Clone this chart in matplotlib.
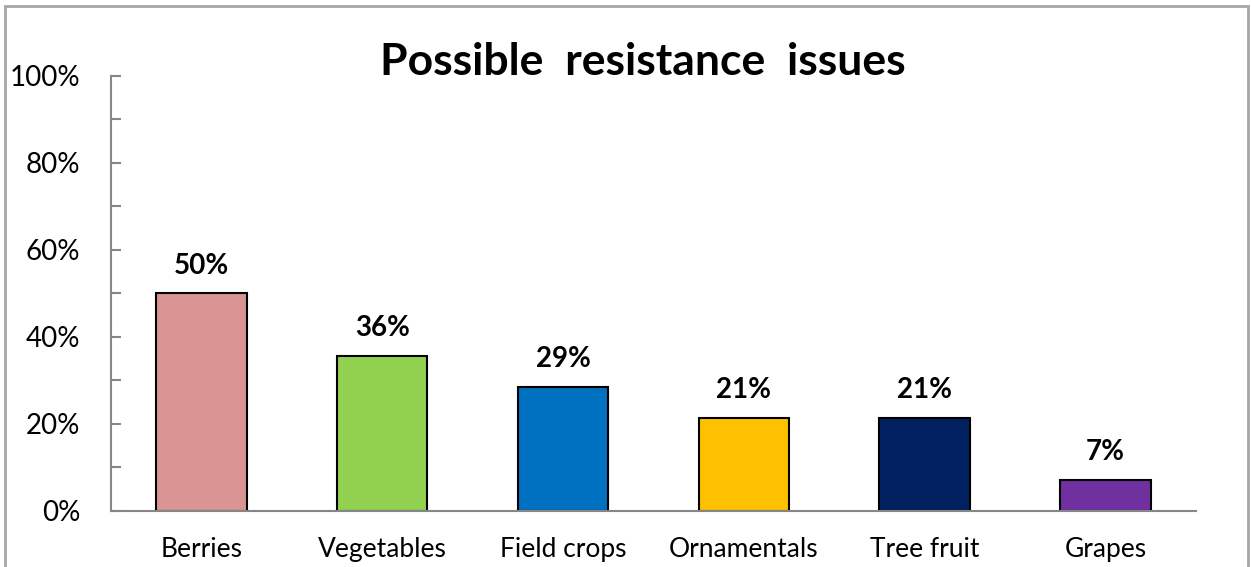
"""Possible resistance issues by crop group."""

import matplotlib.pyplot as plt
from matplotlib.patches import Rectangle
from matplotlib.ticker import MultipleLocator, PercentFormatter

plt.rcParams["font.family"] = ["Lato", "DejaVu Sans"]

categories = ["Berries", "Vegetables", "Field crops", "Ornamentals", "Tree fruit", "Grapes"]
shares = [50.0, 35.7, 28.6, 21.4, 21.4, 7.1]
value_labels = ["50%", "36%", "29%", "21%", "21%", "7%"]
colors = ["#D99594", "#92D050", "#0070C0", "#FFC000", "#002060", "#7030A0"]

fig = plt.figure(figsize=(12.51, 5.67), dpi=100)
ax = fig.add_axes([0.0887, 0.0988, 0.8673, 0.7672])

x = range(len(categories))
bars = ax.bar(x, shares, width=0.5, color=colors, edgecolor="black", linewidth=1.5)

for bar, lab in zip(bars, value_labels):
    ax.annotate(
        lab,
        (bar.get_x() + bar.get_width() / 2, bar.get_height()),
        xytext=(0, 20),
        textcoords="offset points",
        ha="center",
        va="center",
        fontsize=20,
        fontweight="bold",
    )

ax.set_xlim(-0.5, len(categories) - 0.5)
ax.set_ylim(0, 100)
ax.yaxis.set_major_locator(MultipleLocator(20))
ax.yaxis.set_minor_locator(MultipleLocator(10))
ax.yaxis.set_major_formatter(PercentFormatter(decimals=0))
ax.set_xticks(list(x))
ax.set_xticklabels(categories)

ax.tick_params(axis="y", which="both", direction="in", length=7, width=1.5,
               color="#868686", labelsize=20, pad=22)
ax.tick_params(axis="x", length=0, labelsize=19, pad=19)

for side in ("top", "right"):
    ax.spines[side].set_visible(False)
for side in ("left", "bottom"):
    ax.spines[side].set_color("#868686")
    ax.spines[side].set_linewidth(1.5)

fig.text(0.514, 0.89, "Possible  resistance  issues", ha="center", va="center",
         fontsize=32, fontweight="bold")

# outer chart frame
fig.patches.append(Rectangle((0.004, -0.01), 0.994, 1.0, transform=fig.transFigure,
                             fill=False, edgecolor="#A6A6A6", linewidth=2))

fig.savefig("out.png", dpi=100)
